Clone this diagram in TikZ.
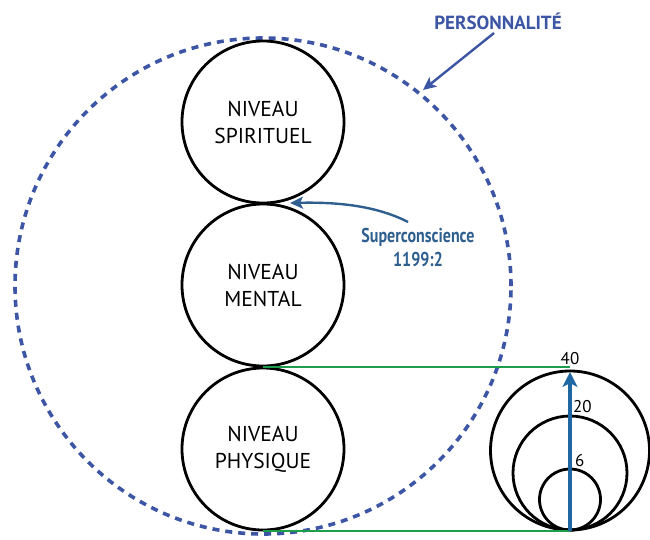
\documentclass[tikz,border=0pt]{standalone}
\usepackage{fontspec}
\setmainfont{PT Sans}
\newfontfamily\condfont[FakeStretch=0.8]{PT Sans}
\usetikzlibrary{arrows.meta}
\definecolor{persblue}{HTML}{3C55A5}
\definecolor{supblue}{HTML}{2F5F8F}
\definecolor{arrblue}{HTML}{1F67A3}
\definecolor{lvlgreen}{HTML}{1E9E4A}
\tikzset{
  level/.style={circle, draw=black, line width=2.8pt, minimum size=162pt, inner sep=0pt, align=center,
    font=\fontsize{21.5}{27}\selectfont},
  growth/.style={circle, draw=black, line width=2.8pt, inner sep=0pt},
  numlabel/.style={font=\fontsize{17}{19}\selectfont, inner sep=0pt},
  greenline/.style={draw=lvlgreen, line width=2pt},
}
\begin{document}
\begin{tikzpicture}[x=1pt,y=-1pt]
\useasboundingbox (0,0) rectangle (650,539);
% personality dashed circle
\node[circle, draw=persblue, line width=3.6pt, dash pattern=on 7pt off 6pt, minimum size=496pt, inner sep=0pt] (pers) at (263,286) {};
% levels
\node[level] (spir) at (263,122) {NIVEAU\\SPIRITUEL};
\node[level] (ment) at (263,285) {NIVEAU\\MENTAL};
\node[level] (phys) at (263,449) {NIVEAU\\PHYSIQUE};
% growth circles
\node[growth, minimum size=159pt] (c40) at (570,450.5) {};
\node[growth, minimum size=114pt] (c20) at (570,473) {};
\node[growth, minimum size=61pt] (c6) at (570,499.5) {};
\coordinate (top40) at (570,367.4);
\coordinate (tip) at (570,372);
% green lines
\draw[greenline] (ment.south) -- (top40);
\draw[greenline] (phys.south) -- (c40.south);
% growth arrow
\draw[draw=arrblue, line width=4pt, -{Stealth[length=15pt,width=15pt,inset=4pt]}] (c40.south) -- (tip);
\node[numlabel] (l40) at (570,359) {40};
\node[numlabel, anchor=west] (l20) at (573,406.5) {20};
\node[numlabel, anchor=west] (l6) at (575,460.5) {6};
% personality label
\node[text=persblue, font=\bfseries\fontsize{19}{21}\selectfont, inner sep=0pt] (perslabel) at (498,21) {PERSONNALITÉ};
\coordinate (persin) at (423,90);
\draw[draw=persblue, line width=2.4pt, -{Stealth[length=13pt,width=12pt,inset=3pt]}] (494,33) -- (persin);
% superconscience
\node[text=supblue, font=\condfont\bfseries\fontsize{20}{24}\selectfont, align=center, inner sep=0pt] (sup) at (418,247) {Superconscience\\1199:2};
\coordinate (supin) at (290,203);
\draw[draw=supblue, line width=2.4pt, -{Stealth[length=13pt,width=12pt,inset=3pt]}] (408,222) .. controls (375,205) and (335,202) .. (supin);
\end{tikzpicture}
\end{document}
